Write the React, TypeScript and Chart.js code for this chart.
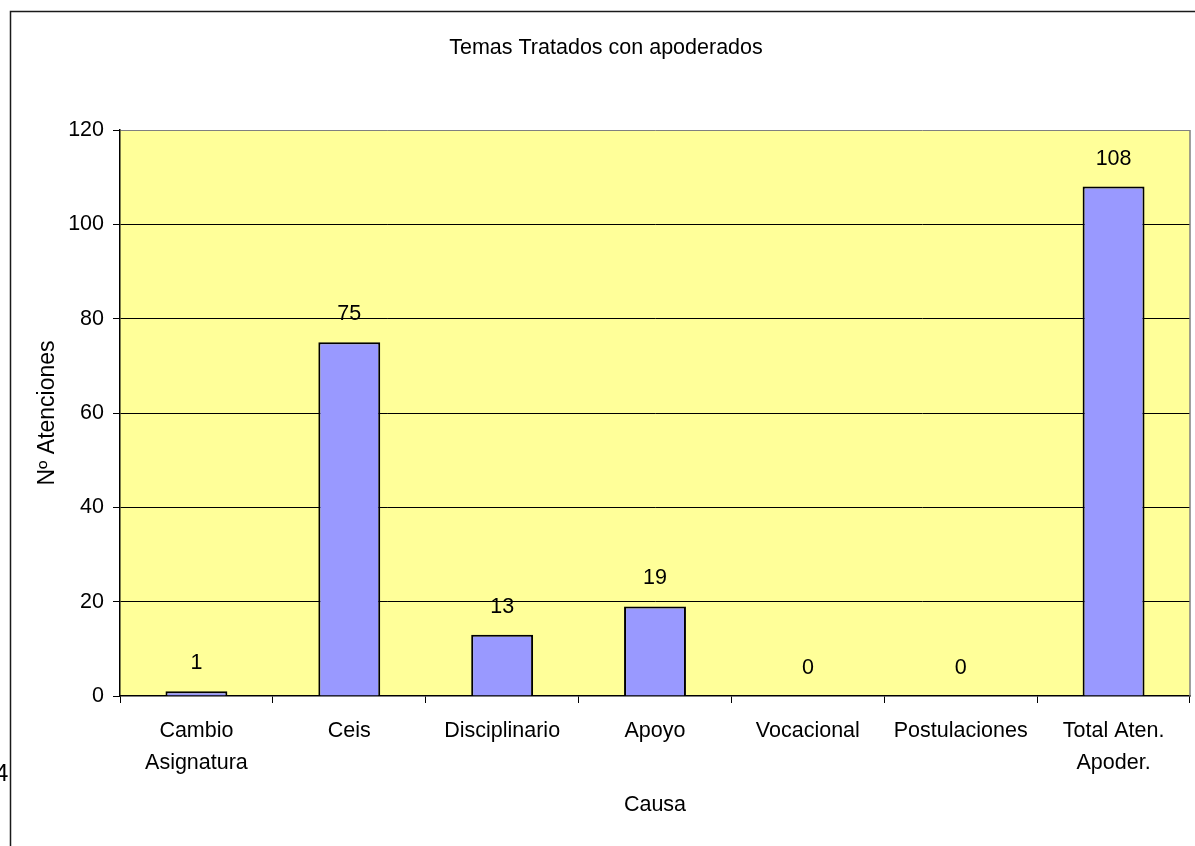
import React, { useEffect, useRef } from "react";
import { Chart, registerables } from "chart.js";

Chart.register(...registerables);

const categories: (string | string[])[] = [
  ["Cambio", "Asignatura"],
  "Ceis",
  "Disciplinario",
  "Apoyo",
  "Vocacional",
  "Postulaciones",
  ["Total Aten.", "Apoder."],
];
const atenciones: number[] = [1, 75, 13, 19, 0, 0, 108];
const yTicks: number[] = [0, 20, 40, 60, 80, 100, 120];
const chartTitle = "Temas Tratados con apoderados";
const yTitle = "Nº Atenciones";
const xTitle = "Causa";

const FONT = "'Liberation Sans', Arial, sans-serif";
const FS = 21.5;

const decorPlugin = {
  id: "decor",
  beforeDraw(chart: any) {
    const { ctx, chartArea, width, height } = chart;
    ctx.save();
    ctx.fillStyle = "#ffffff";
    ctx.fillRect(0, 0, width, height);
    ctx.strokeStyle = "#1a1a1a";
    ctx.lineWidth = 1.5;
    ctx.beginPath();
    ctx.moveTo(10.5, height);
    ctx.lineTo(10.5, 11.5);
    ctx.lineTo(width, 11.5);
    ctx.stroke();
    ctx.fillStyle = "#FFFF99";
    ctx.fillRect(chartArea.left, chartArea.top, chartArea.right - chartArea.left, chartArea.bottom - chartArea.top);
    ctx.fillStyle = "#000";
    ctx.font = `24px ${FONT}`;
    ctx.textAlign = "left";
    ctx.textBaseline = "middle";
    ctx.fillText("4", -5, 774);
    ctx.restore();
  },
  afterDraw(chart: any) {
    const { ctx, chartArea } = chart;
    ctx.save();
    ctx.strokeStyle = "#808080";
    ctx.lineWidth = 1.5;
    ctx.beginPath();
    ctx.moveTo(chartArea.right, chartArea.top);
    ctx.lineTo(chartArea.right, chartArea.bottom);
    ctx.stroke();
    ctx.restore();
  },
};

const labelPlugin = {
  id: "barLabels",
  afterDatasetsDraw(chart: any) {
    const { ctx } = chart;
    const meta = chart.getDatasetMeta(0);
    const data = chart.data.datasets[0].data;
    ctx.save();
    ctx.fillStyle = "#000";
    ctx.font = `${FS}px ${FONT}`;
    ctx.textAlign = "center";
    ctx.textBaseline = "middle";
    meta.data.forEach((bar: any, i: number) => {
      ctx.fillText(String(data[i]), bar.x, bar.y - 28);
    });
    ctx.restore();
  },
};

export default function App() {
  const ref = useRef<HTMLCanvasElement>(null);
  useEffect(() => {
    if (!ref.current) return;
    const chart = new Chart(ref.current, {
      type: "bar",
      data: {
        labels: categories,
        datasets: [
          {
            data: atenciones,
            backgroundColor: "#9999FF",
            borderColor: "#000000",
            borderWidth: 2,
            barPercentage: 0.405,
            categoryPercentage: 1,
          },
        ],
      },
      options: {
        responsive: false,
        animation: false,
        layout: { padding: { left: 22, right: 5, top: 0, bottom: 0 } },
        plugins: {
          legend: { display: false },
          tooltip: { enabled: false },
          title: {
            display: true,
            text: chartTitle,
            color: "#000",
            font: { family: FONT, size: FS, weight: "normal", lineHeight: 1.2 },
            padding: { top: 35.1, bottom: 69.1 },
          },
        },
        scales: {
          x: {
            offset: true,
            grid: {
              display: true,
              offset: true,
              drawOnChartArea: false,
              drawTicks: true,
              tickLength: 7,
              tickColor: "#000",
            },
            border: { display: true, color: "#000", width: 1.5 },
            ticks: {
              color: "#000",
              font: { family: FONT, size: FS, lineHeight: 1.5 },
              padding: 12,
              maxRotation: 0,
              autoSkip: false,
            },
            title: {
              display: true,
              text: xTitle,
              color: "#000",
              font: { family: FONT, size: FS, lineHeight: 1.2 },
              padding: { top: 0, bottom: 28.1 },
            },
            afterFit(scale: any) {
              scale.height = 150;
            },
          },
          y: {
            min: 0,
            max: 120,
            afterBuildTicks(scale: any) {
              scale.ticks = yTicks.map((v) => ({ value: v }));
            },
            grid: {
              color: (c: any) => (c.tick && c.tick.value === 120 ? "#808080" : c.tick && c.tick.value === 0 ? "rgba(0,0,0,0)" : "#000"),
              lineWidth: 1,
              tickLength: 7,
              tickColor: "#000",
            },
            border: { display: true, color: "#000", width: 1.5 },
            ticks: {
              color: "#000",
              font: { family: FONT, size: FS },
              padding: 9,
            },
            title: {
              display: true,
              text: yTitle,
              color: "#000",
              font: { family: FONT, size: 23, lineHeight: 1.2 },
              padding: { top: 12.2, bottom: 0 },
            },
            afterFit(scale: any) {
              scale.width = 98;
            },
          },
        },
      },
      plugins: [decorPlugin, labelPlugin],
    });
    return () => chart.destroy();
  }, []);
  return (
    <div style={{ position: "fixed", left: 0, top: 0, width: 1195, height: 846, overflow: "hidden" }}>
      <canvas ref={ref} width={1195} height={846} style={{ display: "block" }} />
    </div>
  );
}
